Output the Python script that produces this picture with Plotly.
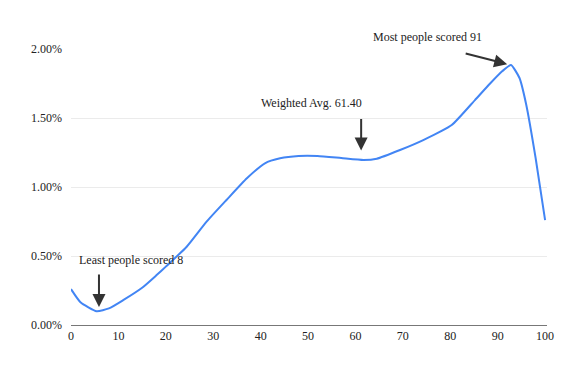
import plotly.graph_objects as go

scores = [0, 2, 5.4, 8, 11, 15, 18, 20, 24.4, 28.6, 32.8, 37.1, 40.9, 44.1, 48, 52, 57, 61.7, 64.5, 69.4, 74.3, 80.3, 85.2, 88.4, 91, 92.8, 94.6, 96, 98, 100]
share = [0.26, 0.165, 0.10, 0.12, 0.18, 0.27, 0.36, 0.423, 0.567, 0.749, 0.906, 1.063, 1.172, 1.208, 1.225, 1.225, 1.21, 1.196, 1.205, 1.268, 1.34, 1.449, 1.63, 1.75, 1.84, 1.884, 1.79, 1.60, 1.21, 0.76]
x_ticks = [0, 10, 20, 30, 40, 50, 60, 70, 80, 90, 100]
y_ticks = [0.0, 0.5, 1.0, 1.5, 2.0]
y_labels = ["0.00%", "0.50%", "1.00%", "1.50%", "2.00%"]

notes = [
    ("Least people scored 8", 1.3, 0.471),
    ("Weighted Avg. 61.40", 39.7, 1.609),
]
top_note = ("Most people scored 91", 63.3, 1.042)  # y in paper units
arrows = [
    (5.9, 0.13, 0, -34),
    (61.2, 1.265, 0, -33),
    (92.0, 1.89, -43, -11),
]

font = "'Liberation Serif', 'Times New Roman', serif"
fig = go.Figure()
fig.add_trace(go.Scatter(x=scores, y=share, mode="lines",
                         line=dict(color="#4285f4", width=2, shape="spline", smoothing=0.5),
                         hoverinfo="skip"))
ann = []
for t, x, y in notes:
    ann.append(dict(text=t, x=x, y=y, xref="x", yref="y", showarrow=False,
                    xanchor="left", yanchor="middle", font=dict(family=font, size=12, color="#222")))
ann.append(dict(text=top_note[0], x=top_note[1], y=top_note[2], xref="x", yref="paper",
                showarrow=False, xanchor="left", yanchor="middle",
                font=dict(family=font, size=12, color="#222")))
for x, y, ax, ay in arrows:
    ann.append(dict(text="", x=x, y=y, xref="x", yref="y", ax=ax, ay=ay, showarrow=True,
                    arrowhead=2, arrowsize=1.3, arrowwidth=2, arrowcolor="#333"))
fig.update_layout(
    width=569, height=358, margin=dict(l=63, r=30, t=41, b=41),
    paper_bgcolor="white", plot_bgcolor="white", showlegend=False,
    font=dict(family=font, size=12, color="#222"),
    annotations=ann,
    xaxis=dict(range=[0, 100.4], tickvals=x_ticks, showgrid=False, zeroline=False,
               showline=True, linecolor="#777", linewidth=1, ticks="", automargin=False),
    yaxis=dict(range=[0, 2.0], tickvals=y_ticks, ticktext=y_labels,
               showgrid=True, gridcolor="#ebebeb", zeroline=False, ticks="",
               ticklabelstandoff=8, automargin=False),
)
fig.write_html("out.html")
